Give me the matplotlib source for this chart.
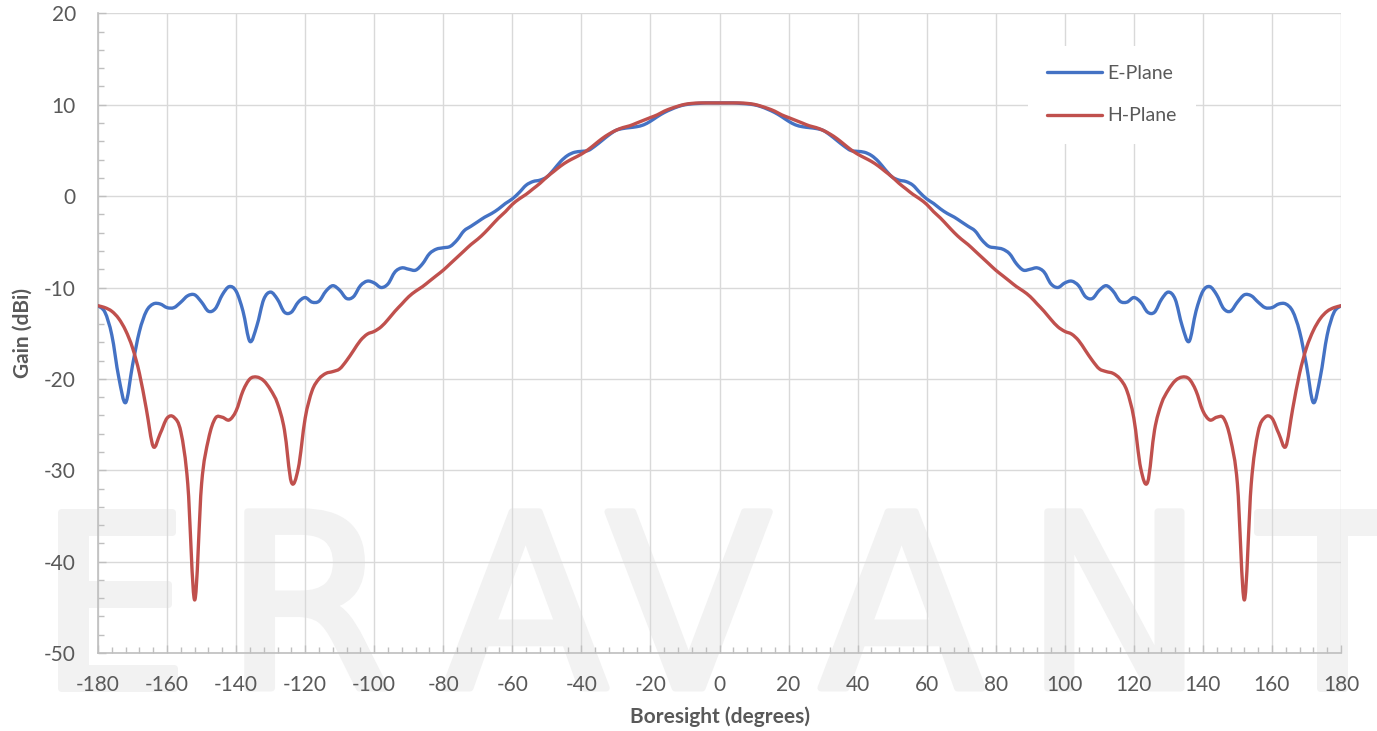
import numpy as np
import matplotlib
matplotlib.use("Agg")
import matplotlib.pyplot as plt
import matplotlib.patheffects as pe
from matplotlib.path import Path
from matplotlib.patches import PathPatch
from matplotlib.lines import Line2D
from matplotlib.ticker import MultipleLocator

# Boresight angle, 2 degree steps
angle = np.arange(-180, 181, 2)

e_plane = [
    -12.0, -12.7, -15.2, -19.8, -22.6, -18.5, -14.8, -12.6, -11.8, -11.8,
    -12.2, -12.2, -11.6, -10.9, -10.8, -11.6, -12.6, -12.3, -10.8, -9.9,
    -10.4, -12.6, -15.9, -14.2, -11.3, -10.5, -11.3, -12.7, -12.7, -11.6,
    -11.1, -11.6, -11.5, -10.4, -9.8, -10.3, -11.2, -11.0, -9.8, -9.3,
    -9.5, -10.0, -9.6, -8.3, -7.85, -8.0, -8.1, -7.4, -6.3, -5.8,
    -5.65, -5.5, -4.8, -3.8, -3.3, -2.8, -2.3, -1.9, -1.4, -0.8,
    -0.3, 0.4, 1.2, 1.6, 1.75, 2.1, 2.9, 3.8, 4.45, 4.8,
    4.9, 5.0, 5.5, 6.1, 6.7, 7.2, 7.4, 7.5, 7.6, 7.8,
    8.2, 8.7, 9.15, 9.5, 9.8, 10.0, 10.1, 10.15, 10.2, 10.2,
    10.2,
    10.2, 10.2, 10.15, 10.1, 10.0, 9.8, 9.5, 9.15, 8.7, 8.2,
    7.8, 7.6, 7.5, 7.4, 7.2, 6.7, 6.1, 5.5, 5.0, 4.9,
    4.8, 4.45, 3.8, 2.9, 2.1, 1.75, 1.6, 1.2, 0.4, -0.3,
    -0.8, -1.4, -1.9, -2.3, -2.8, -3.3, -3.8, -4.8, -5.5, -5.65,
    -5.8, -6.3, -7.4, -8.1, -8.0, -7.85, -8.3, -9.6, -10.0, -9.5,
    -9.3, -9.8, -11.0, -11.2, -10.3, -9.8, -10.4, -11.5, -11.6, -11.1,
    -11.6, -12.7, -12.7, -11.3, -10.5, -11.3, -14.2, -15.9, -12.6, -10.4,
    -9.9, -10.8, -12.3, -12.6, -11.6, -10.8, -10.9, -11.6, -12.2, -12.2,
    -11.8, -11.8, -12.6, -14.8, -18.5, -22.6, -19.8, -15.2, -12.7, -12.0,
]

h_plane = [
    -12.0, -12.2, -12.6, -13.4, -14.7, -16.6, -19.4, -23.3, -27.4, -26.0,
    -24.3, -24.2, -25.8, -31.5, -44.2, -31.5, -26.6, -24.3, -24.2, -24.5,
    -23.5, -21.3, -20.0, -19.8, -20.2, -21.2, -22.7, -25.6, -31.3, -29.8,
    -24.3, -21.3, -20.0, -19.4, -19.2, -18.9, -18.0, -16.9, -15.8, -15.1,
    -14.8, -14.3, -13.5, -12.6, -11.8, -11.0, -10.4, -9.9, -9.3, -8.7,
    -8.1, -7.4, -6.7, -6.0, -5.3, -4.7, -4.0, -3.2, -2.4, -1.7,
    -0.9, -0.3, 0.2, 0.8, 1.4, 2.1, 2.7, 3.3, 3.8, 4.2,
    4.6, 5.1, 5.7, 6.3, 6.8, 7.2, 7.5, 7.7, 8.0, 8.3,
    8.6, 8.9, 9.3, 9.6, 9.85, 10.05, 10.15, 10.2, 10.2, 10.2,
    10.2,
    10.2, 10.2, 10.2, 10.15, 10.05, 9.85, 9.6, 9.3, 8.9, 8.6,
    8.3, 8.0, 7.7, 7.5, 7.2, 6.8, 6.3, 5.7, 5.1, 4.6,
    4.2, 3.8, 3.3, 2.7, 2.1, 1.4, 0.8, 0.2, -0.3, -0.9,
    -1.7, -2.4, -3.2, -4.0, -4.7, -5.3, -6.0, -6.7, -7.4, -8.1,
    -8.7, -9.3, -9.9, -10.4, -11.0, -11.8, -12.6, -13.5, -14.3, -14.8,
    -15.1, -15.8, -16.9, -18.0, -18.9, -19.2, -19.4, -20.0, -21.3, -24.3,
    -29.8, -31.3, -25.6, -22.7, -21.2, -20.2, -19.8, -20.0, -21.3, -23.5,
    -24.5, -24.2, -24.3, -26.6, -31.5, -44.2, -31.5, -25.8, -24.2, -24.3,
    -26.0, -27.4, -23.3, -19.4, -16.6, -14.7, -13.4, -12.6, -12.2, -12.0,
]

series_names = ["E-Plane", "H-Plane"]
series_colors = ["#4472C4", "#C0504D"]
watermark_letters = ["E", "R", "A", "V", "A", "N", "T"]
watermark_x = [37, 224, 443, 606, 819, 1024, 1258]

text_color = "#595959"
plt.rcParams["font.family"] = ["Lato", "DejaVu Sans"]
plt.rcParams["axes.unicode_minus"] = False


def smooth_path(x, y):
    # Catmull-Rom through the points, drawn as cubic bezier (like Excel smoothed line)
    p = np.column_stack([x, y]).astype(float)
    pp = np.vstack([p[0], p, p[-1]])
    verts = [p[0]]
    codes = [Path.MOVETO]
    for i in range(1, len(pp) - 2):
        c1 = pp[i] + (pp[i + 1] - pp[i - 1]) / 6.0
        c2 = pp[i + 1] - (pp[i + 2] - pp[i]) / 6.0
        verts += [c1, c2, pp[i + 1]]
        codes += [Path.CURVE4] * 3
    return Path(verts, codes)


fig = plt.figure(figsize=(13.77, 7.31), dpi=100)
ax = fig.add_axes([98 / 1377, 1 - 653 / 731, 1243 / 1377, (653 - 13.4) / 731])
ax.patch.set_alpha(0)

# watermark behind the plot
for letter, xp in zip(watermark_letters, watermark_x):
    fig.text(xp / 1377, 1 - 688 / 731, letter, fontsize=174, color="#f2f2f2",
             family="DejaVu Sans", ha="left", va="baseline", zorder=-5,
             path_effects=[pe.withStroke(linewidth=5, foreground="#f2f2f2")])

handles = []
for vals, name, col in zip([e_plane, h_plane], series_names, series_colors):
    patch = PathPatch(smooth_path(angle, vals), fill=False, edgecolor=col,
                      linewidth=2.4, capstyle="round", joinstyle="round", zorder=3)
    ax.add_patch(patch)
    handles.append(Line2D([], [], color=col, linewidth=2.4, solid_capstyle="round", label=name))

ax.set_xlim(-180, 180)
ax.set_ylim(-50, 20)
ax.xaxis.set_major_locator(MultipleLocator(20))
ax.xaxis.set_minor_locator(MultipleLocator(4))
ax.yaxis.set_major_locator(MultipleLocator(10))
ax.yaxis.set_minor_locator(MultipleLocator(2))

ax.grid(True, which="major", color="#d9d9d9", linewidth=1.0, zorder=0)
ax.set_axisbelow(True)
for s in ["top", "right"]:
    ax.spines[s].set_visible(False)
for s in ["left", "bottom"]:
    ax.spines[s].set_color("#bfbfbf")
    ax.spines[s].set_linewidth(1.2)

ax.tick_params(which="both", direction="in", color="#bfbfbf", labelcolor=text_color, labelsize=15)
ax.tick_params(which="major", length=6, width=1.0)
ax.tick_params(which="minor", length=4.5, width=1.0)
ax.tick_params(axis="y", which="major", pad=16)
ax.tick_params(axis="x", which="major", pad=16)

ax.set_xlabel("Boresight (degrees)", fontsize=15, fontweight="bold", color=text_color, labelpad=8)
ax.set_ylabel("Gain (dBi)", fontsize=15, fontweight="bold", color=text_color, labelpad=8)

leg = ax.legend(handles=handles, loc="upper left", bbox_to_anchor=(1018 / 1377, 1 - 36 / 731),
                bbox_transform=fig.transFigure, fontsize=14, frameon=True, facecolor="white",
                edgecolor="none", framealpha=1, handlelength=2.8, handletextpad=0.3,
                labelspacing=1.3, borderpad=1.0, fancybox=False)
for t in leg.get_texts():
    t.set_color(text_color)

fig.savefig("out.png", dpi=100)
